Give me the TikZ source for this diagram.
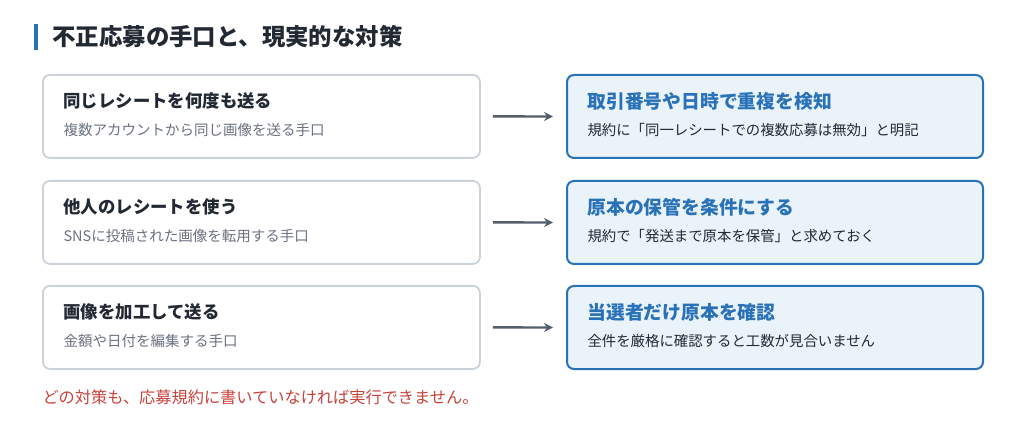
\documentclass[tikz,border=0pt]{standalone}
\usepackage{fontspec}
\setmainfont{Noto Sans CJK JP}
\usetikzlibrary{positioning,arrows.meta}
\definecolor{ink}{HTML}{222933}
\definecolor{sub}{HTML}{6B7280}
\definecolor{frame}{HTML}{CBD2DA}
\definecolor{accent}{HTML}{2A72B8}
\definecolor{pale}{HTML}{EAF2FA}
\definecolor{warn}{HTML}{C8423A}
\definecolor{arr}{HTML}{555F6B}
\tikzset{
  trick/.style={draw=frame, line width=1.8pt, rounded corners=7pt, fill=white,
    minimum width=437pt, minimum height=83pt, anchor=north west},
  fix/.style={draw=accent, line width=2pt, rounded corners=7pt, fill=pale,
    minimum width=416pt, minimum height=83pt, anchor=north west},
  head/.style={anchor=west, font=\bfseries\fontsize{17.4}{20}\selectfont},
  note/.style={anchor=west, font=\fontsize{14.5}{17}\selectfont},
  link/.style={draw=arr, line width=2.4pt, -{Stealth[length=9pt,width=9pt]}}
}
\begin{document}
\begin{tikzpicture}[x=1pt,y=-1pt]
    \useasboundingbox (0,0) rectangle (1024,427);
    \fill[accent] (34,24) rectangle (38,50);
    \node[anchor=west, text=ink, font=\bfseries\fontsize{23.4}{27}\selectfont] (title) at (49,37) {不正応募の手口と、現実的な対策};

    \foreach \i/\t/\s/\f/\n [count=\k] in {
        74/同じレシートを何度も送る/複数アカウントから同じ画像を送る手口/取引番号や日時で重複を検知/規約に「同一レシートでの複数応募は無効」と明記,
        180/他人のレシートを使う/SNSに投稿された画像を転用する手口/原本の保管を条件にする/規約で「発送まで原本を保管」と求めておく,
        285/画像を加工して送る/金額や日付を編集する手口/当選者だけ原本を確認/全件を厳格に確認すると工数が見合いません}
    {
        \node[trick] (trick\k) at (42,\i) {};
        \node[head, text=ink] at ([xshift=18pt, yshift=-27pt]trick\k.north west) {\t};
        \node[note, text=sub] at ([xshift=18pt, yshift=-56pt]trick\k.north west) {\s};
        \node[fix] (fix\k) at (566,\i) {};
        \node[head, text=accent, font=\bfseries\fontsize{18.8}{22}\selectfont] at ([xshift=18pt, yshift=-27pt]fix\k.north west) {\f};
        \node[note, text=ink, font=\fontsize{14.4}{17}\selectfont] at ([xshift=18pt, yshift=-56pt]fix\k.north west) {\n};
        \draw[link] ([xshift=12pt]trick\k.east) -- ([xshift=-13pt]fix\k.west);
    }

    \node[anchor=west, text=warn, font=\fontsize{16.2}{19}\selectfont] (footer) at (39,397) {どの対策も、応募規約に書いていなければ実行できません。};
\end{tikzpicture}
\end{document}
